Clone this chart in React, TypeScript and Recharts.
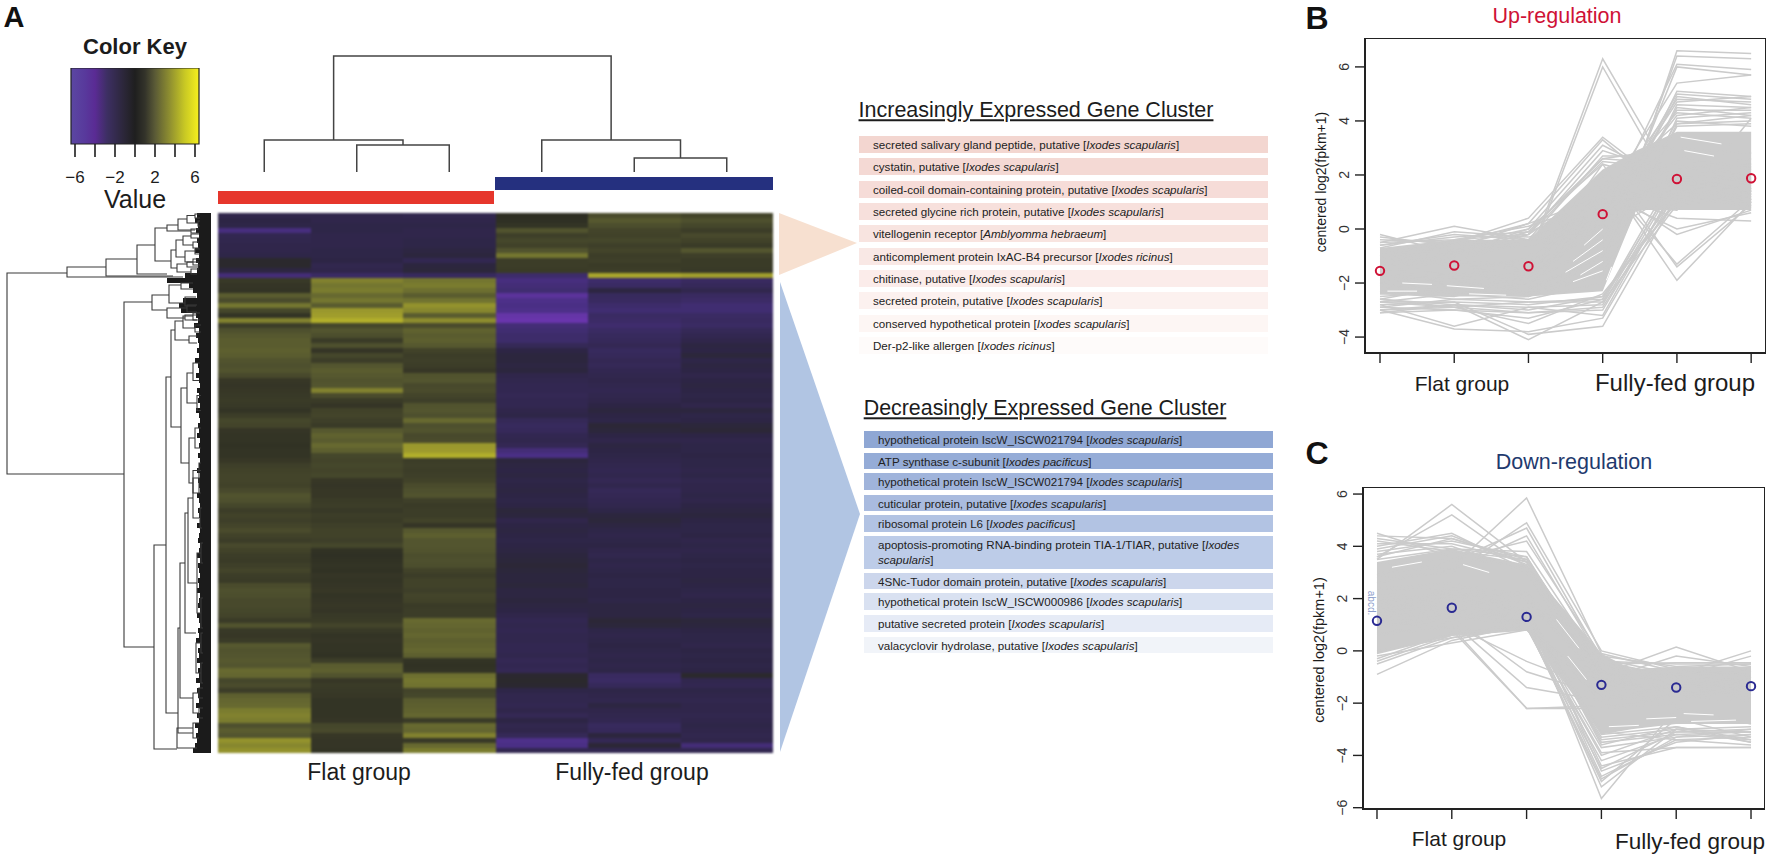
import React from 'react';
import {
  Area,
  Bar,
  BarChart,
  Cell,
  ComposedChart,
  Line,
  LineChart,
  ReferenceArea,
  XAxis,
  YAxis,
} from 'recharts';

const FONT = '"Liberation Sans", Arial, sans-serif';

// colour key
const keyTicks = [-6, -4, -2, 0, 2, 4, 6];
const keyLabels = [-6, -2, 2, 6];
const keyRange = [-6.4, 6.4];
const keyStops: [number, string][] = [
  [-6.4, '#5b47a2'], [-5, '#58399c'], [-4, '#5a2b94'], [-2.8, '#3d2f63'], [-1, '#2a2636'], [0, '#1f1f1f'],
  [1, '#33332a'], [2, '#5a5a36'], [3.5, '#909030'], [5, '#c9c924'], [6.4, '#f6f01e'],
];
const heatStops: [number, string][] = [
  [-5, '#6c36b0'], [-3, '#4a2f85'], [-2, '#3a2b63'], [-1, '#2d2545'], [0, '#2a2a22'], [1, '#3c3d28'],
  [2, '#53552f'], [3, '#747630'], [4.5, '#a3a02c'], [6, '#e8e825'],
];

// heatmap values, one list per sample, top row first
const flat1 = [
  -1.2, -1.0, -1.1, -2.8, -1.4, -1.3, -1.2, -1.2, -1.1, -0.3,
  -0.3, -0.9, -2.6, 0.8, 0.6, 0.5, 2.2, 1.6, 3.0, 1.4,
  0.5, 3.4, 1.0, 1.8, 2.1, 2.2, 2.2, 2.3, 2.2, 1.9,
  1.8, 1.9, 1.5, 0.7, 0.6, 0.7, 0.8, 0.9, 0.8, 0.5,
  1.0, 1.4, 1.3, 0.6, 0.5, 0.5, 0.4, 0.5, 0.5, 0.7,
  1.1, 1.2, 1.3, 1.3, 1.2, 1.5, 1.9, 1.8, 1.4, 1.0,
  1.2, 1.1, 1.3, 1.6, 1.2, 1.0, 1.5, 1.2, 1.0, 0.9,
  1.1, 1.3, 1.0, 0.9, 1.6, 1.8, 1.7, 1.5, 1.5, 1.4,
  1.3, 0.9, 1.9, 0.8, 0.7, 0.9, 2.1, 1.9, 2.0, 2.1,
  2.0, 2.6, 2.5, 1.4, 1.6, 1.0, 2.3, 2.5, 2.6, 3.2,
  3.4, 3.2, 1.8, 2.2, 2.0, 4.0, 3.6, 4.0,
];
const flat2 = [
  -1.2, -1.2, -1.1, -1.1, -1.2, -1.2, -1.2, -1.1, -1.1, -1.0,
  -1.3, -1.2, -2.0, 3.4, 3.0, 3.2, 2.6, 3.0, 2.2, 4.2,
  4.4, 4.8, 1.4, 2.0, 1.7, 0.9, 1.8, 0.6, 1.4, 1.0,
  2.0, 2.2, 2.1, 1.9, 2.0, 3.4, 1.6, 0.9, 0.6, 1.2,
  1.3, 1.1, 0.9, 2.1, 2.4, 2.2, 2.6, 2.3, 1.4, 1.3,
  1.4, 1.3, 1.4, 0.7, 0.6, 0.7, 0.7, 0.9, 1.0, 0.8,
  1.0, 0.9, 1.1, 1.2, 1.2, 1.1, 1.4, 0.4, 0.3, 0.4,
  0.5, 0.4, 0.6, 0.5, 0.6, 0.7, 0.5, 0.6, 0.7, 0.6,
  0.8, 0.9, 1.3, 0.8, 0.5, 0.6, 0.5, 0.5, 0.4, 1.0,
  2.2, 2.3, 1.9, 0.7, 0.9, 0.8, 0.7, 0.5, 0.5, 0.5,
  0.5, 0.6, 1.4, 1.5, 0.7, 0.6, 0.6, 0.5,
];
const flat3 = [
  -1.3, -1.2, -1.1, -1.2, -1.2, -1.1, -1.1, -0.9, -0.8, -1.4,
  -0.8, -0.7, -1.8, 3.0, 3.2, 2.8, 2.2, 2.9, 4.0, 3.6,
  2.2, 3.8, 1.6, 2.4, 2.2, 2.3, 2.1, 1.2, 1.0, 1.1,
  1.0, 0.7, 1.9, 2.0, 1.5, 1.6, 1.3, 1.1, 1.9, 2.0,
  1.8, 2.6, 1.8, 1.9, 1.5, 1.6, 4.2, 4.3, 4.8, 1.0,
  1.1, 1.0, 1.1, 1.2, 1.6, 1.8, 1.9, 1.1, 0.9, 1.0,
  1.0, 1.2, 0.6, 2.1, 2.3, 2.0, 2.0, 1.9, 1.7, 1.8,
  1.7, 1.2, 1.0, 1.2, 1.2, 1.1, 1.3, 1.2, 0.9, 1.0,
  1.0, 2.6, 2.5, 2.4, 2.5, 2.3, 2.4, 2.5, 2.3, 0.5,
  0.4, 0.5, 2.8, 3.0, 2.9, 1.3, 1.4, 2.2, 2.3, 2.4,
  2.5, 0.9, 2.6, 2.5, 3.4, 0.8, 2.6, 3.2,
];
const fed1 = [
  0.2, 0.3, 0.5, 1.9, 1.1, 1.4, 1.2, 1.9, 3.0, 1.0,
  1.0, 0.9, -2.2, -2.8, -2.6, -2.4, -4.0, -3.2, -3.0, -3.2,
  -4.6, -4.8, -2.6, -2.4, -2.2, -2.2, -1.6, -1.0, -0.8, -0.8,
  -0.9, -0.8, -1.2, -1.3, -1.4, -1.4, -1.5, -1.4, -1.4, -1.2,
  -1.1, -1.6, -1.8, -1.7, -1.4, -1.3, -1.5, -2.6, -3.0, -0.8,
  -0.9, -1.0, -0.9, -1.1, -1.0, -0.9, -1.0, -1.1, -1.0, -0.7,
  -0.8, -1.2, -1.0, -0.9, -1.0, -1.1, -1.0, -0.9, -0.8, -0.7,
  -0.6, -0.7, -0.8, -0.8, -0.7, -0.9, -0.9, -0.8, -0.9, -1.0,
  -1.2, -1.4, -1.3, -1.4, -1.3, -1.3, -1.4, -1.4, -1.3, -1.5,
  -1.4, -1.5, -0.4, -0.3, -0.4, -1.1, -1.3, -1.3, -1.4, -1.2,
  -1.5, -1.0, -1.3, -1.2, -1.6, -3.2, -3.0, -1.4,
];
const fed2 = [
  1.6, 2.1, 1.7, 1.3, 1.2, 1.4, 1.1, 1.3, 1.0, 1.1,
  0.9, 1.0, 4.6, -2.2, -2.0, -0.9, -1.8, -1.9, -2.2, -2.4,
  -2.0, -2.1, -2.3, -2.0, -1.8, -1.7, -1.5, -1.8, -1.7, -1.5,
  -1.6, -1.4, -1.3, -1.2, -1.3, -1.4, -1.3, -1.2, -1.0, -0.8,
  -1.0, -1.1, -0.6, -0.7, -1.0, -1.2, -0.9, -1.0, -1.1, -1.2,
  -1.3, -1.4, -1.3, -1.5, -1.3, -1.6, -1.5, -1.4, -1.3, -1.1,
  -0.8, -0.7, -0.9, -1.1, -1.2, -1.1, -1.0, -1.2, -1.3, -1.1,
  -1.2, -1.1, -1.0, -1.1, -1.1, -1.0, -1.0, -1.1, -0.9, -0.9,
  -0.9, -0.6, -0.7, -1.1, -1.2, -1.1, -1.0, -1.1, -1.2, -1.1,
  -1.2, -1.1, -1.9, -2.0, -1.7, -1.1, -1.2, -1.3, -0.9, -1.2,
  -1.3, -1.4, -1.8, -1.7, -0.8, -1.5, -0.6, -1.4,
];
const fed3 = [
  1.3, 1.8, 1.4, 1.0, 1.5, 1.2, 0.9, 2.0, 1.1, 0.9,
  0.9, 0.8, 4.4, -1.9, -1.7, -1.3, -1.9, -2.1, -2.4, -2.4,
  -2.0, -1.9, -2.0, -1.6, -1.4, -1.2, -0.9, -1.0, -0.7, -1.1,
  -0.9, -1.0, -1.2, -1.0, -0.9, -1.0, -1.1, -1.0, -1.2, -0.8,
  -1.1, -1.0, -0.7, -0.6, -1.0, -1.2, -1.1, -1.1, -1.0, -1.1,
  -1.1, -1.2, -1.1, -1.3, -1.2, -1.2, -1.1, -1.2, -1.0, -0.9,
  -0.8, -1.0, -1.1, -1.1, -1.0, -1.2, -1.1, -1.2, -1.1, -1.0,
  -1.1, -1.0, -1.0, -0.9, -1.0, -1.1, -1.2, -1.0, -0.9, -1.0,
  -1.1, -0.7, -0.8, -1.0, -1.1, -1.1, -1.2, -1.0, -1.1, -1.0,
  -1.1, -1.0, -0.3, -1.3, -1.4, -1.1, -1.2, -1.3, -1.2, -1.2,
  -1.3, -1.2, -1.1, -1.2, -1.3, -1.2, -2.6, -1.4,
];
const heatColumns = [flat1, flat2, flat3, fed1, fed2, fed3];

// row dendrogram: [merge height, upper row, upper child height, lower row, lower child height]
const rowLinks = [
  [204, 12, 144, 52.2, 87], [144, 10.8, 105, 12.8, 28], [105, 9.2, 74, 12.6, 38], [74, 6.4, 56, 12.2, 44],
  [56, 3, 44, 9.6, 40], [44, 2.4, 33, 3.6, 20], [33, 1.2, 24, 3.4, 16], [24, 0.5, 16, 2, 13],
  [16, 0.2, 11, 1, 11], [13, 1.6, 11, 2.6, 11], [20, 3.2, 12, 4, 12], [40, 7.4, 35, 11, 34],
  [35, 5.4, 28, 8.8, 26], [28, 4.6, 20, 6.4, 18], [20, 4.2, 12, 5, 12], [18, 5.8, 12, 7, 12],
  [26, 7.6, 16, 9.8, 18], [16, 7.2, 11, 8.2, 11], [18, 9.2, 11, 10.4, 11], [34, 10.2, 24, 11.8, 20],
  [24, 9.8, 12, 10.8, 12], [20, 11.2, 12, 12.2, 14], [87, 17.8, 59, 86.8, 57], [59, 16.4, 42, 19.4, 44],
  [42, 14.4, 30, 18, 26], [30, 14, 18, 15.2, 18], [26, 16.8, 15, 18.6, 15], [44, 19, 24, 21, 26],
  [24, 18.4, 14, 19.8, 14], [26, 20.4, 14, 21.4, 14], [57, 66.4, 45, 107.2, 34], [45, 32.8, 40, 100, 33],
  [40, 23.4, 36, 42.8, 30], [36, 21.6, 28, 25.4, 22], [28, 20.6, 18, 23, 16], [22, 24.6, 14, 26, 14],
  [18, 20, 11, 21.4, 11], [16, 22.4, 10, 23.8, 10], [30, 35, 24, 50, 22], [24, 32, 18, 38, 14],
  [18, 30, 11, 33.5, 12], [14, 36.5, 10, 39.5, 10], [22, 45, 16, 54, 18], [16, 43, 10, 47, 10],
  [18, 51.5, 10, 56, 12], [33, 83, 31, 104, 18], [31, 70, 26, 97, 18], [26, 60, 23, 84, 15],
  [23, 57, 18, 74, 14], [18, 53, 11, 61, 12], [12, 50, 10, 56, 10], [11, 59, 9, 63, 9],
  [14, 68, 10, 80, 10], [10, 66, 8, 70, 8], [10, 77, 8, 83, 8], [15, 86, 10, 92, 10],
  [10, 84, 8, 88, 8], [10, 90, 8, 94, 8], [18, 96, 12, 100, 12], [12, 95, 8, 97, 8],
  [12, 99, 8, 101, 8], [34, 103, 18, 107, 14], [18, 102, 12, 105, 12],
];
const leafDepth = [
  14, 16, 13, 15, 12, 14, 13, 16, 12, 15,
  13, 14, 26, 44, 22, 18, 14, 28, 32, 30,
  15, 13, 17, 12, 15, 13, 12, 14, 12, 16,
  13, 12, 15, 12, 11, 14, 12, 13, 11, 15,
  12, 11, 13, 12, 14, 11, 12, 11, 13, 11,
  12, 14, 11, 13, 12, 11, 14, 12, 11, 13,
  12, 11, 14, 11, 12, 13, 11, 12, 14, 11,
  13, 12, 11, 13, 12, 14, 11, 12, 13, 11,
  14, 12, 11, 13, 12, 15, 11, 13, 12, 14,
  11, 13, 12, 15, 11, 14, 13, 12, 15, 11,
  14, 12, 16, 13, 15, 14, 16, 18,
];

// column dendrogram: [left leaf, right leaf, merge height, left child height, right child height]
const columnLinks = [
  [1.5, 2.5, 27, 0, 0],
  [0.5, 2.0, 32, 0, 27],
  [4.5, 5.5, 14, 0, 0],
  [3.5, 5.0, 32, 0, 14],
  [1.25, 4.25, 116, 32, 32],
];

// gene lists: name, species (a line break where the row wraps)
const increasingGenes = [
  ['secreted salivary gland peptide, putative', 'Ixodes scapularis'],
  ['cystatin, putative', 'Ixodes scapularis'],
  ['coiled-coil domain-containing protein, putative', 'Ixodes scapularis'],
  ['secreted glycine rich protein, putative', 'Ixodes scapularis'],
  ['vitellogenin receptor', 'Amblyomma hebraeum'],
  ['anticomplement protein IxAC-B4 precursor', 'Ixodes ricinus'],
  ['chitinase, putative', 'Ixodes scapularis'],
  ['secreted protein, putative', 'Ixodes scapularis'],
  ['conserved hypothetical protein', 'Ixodes scapularis'],
  ['Der-p2-like allergen', 'Ixodes ricinus'],
];
const decreasingGenes = [
  ['hypothetical protein IscW_ISCW021794', 'Ixodes scapularis'],
  ['ATP synthase c-subunit', 'Ixodes pacificus'],
  ['hypothetical protein IscW_ISCW021794', 'Ixodes scapularis'],
  ['cuticular protein, putative', 'Ixodes scapularis'],
  ['ribosomal protein L6', 'Ixodes pacificus'],
  ['apoptosis-promoting RNA-binding protein TIA-1/TIAR, putative', 'Ixodes\nscapularis'],
  ['4SNc-Tudor domain protein, putative', 'Ixodes scapularis'],
  ['hypothetical protein IscW_ISCW000986', 'Ixodes scapularis'],
  ['putative secreted protein', 'Ixodes scapularis'],
  ['valacyclovir hydrolase, putative', 'Ixodes scapularis'],
];
const increasingFills = ['#f3d6d0', '#f4d9d4', '#f6dcd8', '#f7e0dc', '#f8e4e0', '#f9e8e5', '#fbecea', '#fcf1ef', '#fdf6f4', '#fefbfa'];
const decreasingFills = ['#8fa7d4', '#95acd7', '#a0b4db', '#a9bbdf', '#b2c3e3', '#bdcce8', '#ccd6ec', '#d9e1f1', '#e6ebf6', '#f1f4f9'];
const increasingTops = [136, 158, 181, 203, 225, 248, 270, 292, 315, 337];
const decreasingTops = [431, 453, 473, 495, 515, 536, 573, 593, 615, 637];
const decreasingHeights = [17, 16, 17, 16, 17, 33, 16, 17, 17, 16];

// panels B and C
const timePoints = [1, 2, 3, 4, 5, 6];
const upMeans = [-1.55, -1.35, -1.38, 0.55, 1.85, 1.88];
const downMeans = [1.15, 1.65, 1.3, -1.3, -1.4, -1.35];
const upBandX = [1, 2, 3, 4, 4.45, 5, 6];
const upBandLow = [-2.4, -2.5, -2.5, -2.3, 0.7, 0.7, 0.7];
const upBandHigh = [-0.7, -0.4, -0.4, 2.2, 2.9, 3.6, 3.6];
const downBandX = [1, 2, 3, 4, 4.4, 5, 6];
const downBandLow = [-0.1, 0.6, 0.8, -3.2, -3.0, -2.8, -2.8];
const downBandHigh = [3.4, 3.9, 3.3, -0.1, -0.7, -0.6, -0.6];
const upLines = [
  [-1.2, -1.5, -1.1, 6.3, 1.6, 1.9], [-1.5, -1.4, -1.2, 6.0, 1.2, 1.7], [-0.8, -0.5, 0.4, 3.4, 1.3, 1.5],
  [-1.0, -0.7, 0.2, 3.3, 1.0, 1.2], [-1.2, -0.9, 0.0, 3.1, 1.7, 1.4], [-1.4, -1.1, -0.2, 2.9, 2.0, 1.8],
  [-1.6, -1.2, -0.4, 2.7, 2.7, 2.2], [-0.9, -0.8, -0.1, 2.6, 3.0, 2.8], [-2.5, -2.3, -2.4, -1.6, 6.6, 6.5],
  [-2.2, -2.0, -2.5, -1.2, 6.4, 6.3], [-2.0, -2.4, -2.1, 0.4, 6.1, 5.9], [-2.6, -2.1, -2.3, -0.8, 6.0, 5.7],
  [-1.9, -1.8, -1.7, 1.0, 5.4, 5.7], [-2.3, -2.2, -2.0, -0.5, 5.1, 4.9], [-1.7, -1.9, -1.6, 0.2, 5.0, 4.8],
  [-2.1, -1.6, -1.9, 0.8, 4.8, 4.7], [-1.8, -2.0, -2.2, -1.0, 4.6, 4.5], [-2.4, -2.5, -1.8, 0.1, 4.4, 4.4],
  [-1.3, -1.5, -1.5, 1.2, 4.3, 4.1], [-2.7, -2.4, -2.6, -2.0, 4.1, 4.3], [-1.6, -1.4, -1.3, 1.5, 3.9, 4.0],
  [-2.0, -1.7, -2.4, -1.4, 3.8, 3.9], [-1.3, -1.2, -1.3, 2.1, -1.9, 1.0], [-1.5, -1.3, -1.4, 2.4, -1.4, 0.9],
  [-1.6, -1.5, -1.2, 1.9, -1.3, 1.1], [-1.4, -1.4, -1.5, 1.6, -0.2, 0.7], [-1.7, -1.6, -1.6, 1.3, 0.0, 0.6],
  [-1.8, -1.7, -1.4, 1.4, 0.4, 0.3], [-3.1, -3.0, -3.1, -3.0, 1.6, 1.5], [-3.0, -3.7, -3.8, -3.3, 1.4, 1.3],
  [-2.8, -3.6, -2.9, -2.8, 1.8, 1.7], [-3.1, -2.8, -4.1, -2.7, 2.0, 1.9], [-2.7, -2.7, -3.9, -3.6, 1.2, 1.4],
  [-2.9, -3.0, -3.3, -2.6, 2.2, 2.0], [-2.6, -2.9, -3.5, -2.4, 1.0, 1.2], [-3.0, -2.8, -2.9, -3.2, 1.7, 1.6],
  [-0.2, -0.9, -0.6, -0.2, 1.4, 1.5], [-0.3, -0.6, -0.5, 0.3, 1.7, 1.8], [-0.5, 0.1, -0.4, 0.7, 1.9, 2.0],
  [-0.7, -0.1, -0.3, 0.5, 1.5, 1.4], [-0.6, -0.2, -0.4, 0.0, 2.2, 2.3], [-1.0, -0.4, 0.1, 1.0, 2.5, 2.4],
  [-1.5, -1.5, -1.6, 1.0, 0.7, 4.1], [-2.2, -2.0, -2.1, -0.3, 4.9, 4.6], [-1.9, -2.2, -1.8, 0.5, 4.7, 4.9],
  [-2.4, -2.3, -2.2, -0.9, 4.5, 4.2], [-1.6, -1.8, -1.9, 0.7, 4.2, 4.5], [-2.0, -1.9, -2.3, -1.1, 4.0, 3.8],
  [-2.3, -2.6, -2.5, -1.7, 3.9, 4.2], [-1.1, -0.8, -0.2, 2.5, 2.2, 2.6], [-0.9, -0.6, 0.0, 2.4, 1.6, 2.0],
  [-1.3, -1.0, -0.1, 2.6, 2.4, 2.0], [-2.8, -2.7, -2.8, -2.5, 1.1, 1.0], [-2.9, -2.6, -2.7, -2.7, 0.9, 1.3],
  [-2.7, -2.9, -3.1, -2.9, 1.5, 1.1], [-2.6, -2.8, -3.0, -2.5, 1.3, 0.8], [-3.0, -2.9, -2.7, -2.6, 1.9, 1.4],
  [-0.6, -0.3, -0.1, 0.9, 1.2, 1.0], [-0.4, -0.5, 0.2, 1.2, 1.1, 1.3], [-0.5, -0.4, -0.2, 1.6, 0.9, 1.1],
];
const downLines = [
  [4.5, 3.6, 3.2, -1.0, -1.4, -1.5], [4.4, 4.3, 3.4, -0.8, -1.2, -1.3], [4.2, 3.8, 3.5, -0.6, -1.0, -1.1],
  [4.0, 4.5, 3.1, -1.2, -1.5, -1.6], [3.9, 4.4, 3.3, -1.0, -1.8, -1.2], [3.7, 4.0, 3.0, -1.4, -1.1, -1.4],
  [3.6, 5.2, 3.2, -0.9, -1.3, -1.0], [3.5, 5.6, 3.4, -1.3, -1.2, -1.1], [3.0, 3.2, 5.85, -0.1, -0.8, -1.0],
  [2.8, 3.0, 4.9, 0.0, -0.7, -0.9], [2.9, 3.4, 4.7, -0.3, -0.9, -0.8], [2.6, 3.1, 4.4, -0.4, -1.0, -0.7],
  [3.3, 3.5, 4.2, -0.2, -0.6, -0.5], [1.2, 0.8, -2.2, -2.2, -2.0, -2.0], [0.6, 0.9, -2.2, -2.1, -1.8, -1.9],
  [1.0, 1.1, -1.4, -1.9, -1.6, -1.7], [0.9, 1.3, -0.8, -1.7, -1.5, -1.8], [0.7, 1.0, -0.4, -1.5, -1.9, -1.4],
  [-0.9, 0.4, 1.0, -1.4, -1.3, -1.2], [-0.5, 0.5, 0.9, -1.6, -1.6, -1.5], [-0.4, 0.6, 1.1, -1.8, -1.4, -1.3],
  [-0.2, 0.3, 0.8, -1.2, -1.2, -1.4], [1.5, 2.0, 1.5, -5.65, -2.2, -2.8], [1.4, 1.9, 1.6, -4.6, -3.5, -3.2],
  [1.3, 1.6, 1.2, -5.2, -3.0, -3.1], [1.6, 2.1, 1.0, -5.0, -2.6, -3.3], [1.8, 2.3, 1.3, -4.8, -3.4, -3.6],
  [1.1, 1.5, 1.5, -4.4, -3.7, -3.7], [2.0, 1.4, 0.9, -4.2, -3.2, -3.4], [1.9, 2.2, 1.1, -3.9, -3.7, -3.7],
  [1.2, 1.7, 1.7, -3.6, -2.9, -3.5], [1.5, 2.4, 1.4, -3.4, -3.1, -3.0], [2.2, 2.0, 1.8, -0.9, 0.15, -0.8],
  [1.8, 2.3, 2.0, -1.1, -0.2, -0.6], [2.4, 2.6, 2.1, -1.3, -0.9, 0.0], [2.1, 1.9, 2.3, -1.0, -1.0, -0.2],
  [4.3, 3.9, 3.6, -0.9, -1.1, -1.2], [4.1, 4.1, 3.4, -0.7, -1.3, -1.0], [3.8, 4.2, 3.6, -1.1, -1.4, -1.3],
  [3.6, 4.3, 3.5, -0.8, -1.0, -1.5], [3.5, 3.9, 3.8, -0.5, -0.9, -0.8], [1.4, 1.8, 1.3, -3.3, -3.0, -2.9],
  [1.7, 2.0, 1.6, -3.5, -3.2, -3.1], [1.3, 1.5, 1.2, -3.7, -3.3, -3.2], [1.6, 2.2, 1.5, -3.1, -3.4, -3.3],
  [1.0, 1.4, 1.1, -4.0, -3.0, -3.5], [1.9, 1.6, 1.4, -3.2, -2.9, -3.4], [1.5, 1.7, 0.9, -4.5, -3.1, -3.1],
  [1.2, 1.3, 1.0, -4.9, -3.3, -3.0], [0.0, 0.5, 1.0, -1.7, -1.5, -1.6], [-0.3, 0.7, 0.9, -1.9, -1.7, -1.5],
  [-0.1, 0.6, 0.8, -1.5, -1.4, -1.7], [2.0, 2.1, 1.9, -0.4, -0.5, -0.5], [2.3, 2.4, 2.2, -0.5, -0.45, -0.45],
];
// thin unfilled streaks inside the grey mass: [x1, y1, x2, y2]
const upGaps = [
  [1.1, -2.3, 1.5, -2.3], [1.9, -2.1, 2.4, -2.2], [2.2, -2.4, 2.7, -2.45], [3.6, -1.2, 4, -0.4], [3.5, -1.6, 4, -0.8],
  [3.7, -1.7, 4, -1.2], [3.6, -1.95, 4, -1.55], [3.75, -0.6, 4, 0.0], [5.05, 3.4, 5.6, 3.15], [5.1, 2.9, 5.5, 2.7],
  [4.05, -1.9, 4.12, -1.4], [1.3, -2.0, 1.7, -2.05],
];
const downGaps = [
  [4.1, -2.9, 4.5, -2.85], [5.2, -2.7, 5.8, -2.65], [4.6, -2.6, 5, -2.55], [5.1, -2.4, 5.5, -2.45],
  [1.2, 3.2, 1.6, 3.4], [2.15, 3.3, 2.5, 3.0], [3.4, 1.2, 3.7, 0.1], [3.55, -0.2, 3.8, -1.1],
];

const hexToRgb = (hex: string) => [1, 3, 5].map(i => parseInt(hex.slice(i, i + 2), 16));

function heatColor(value: number) {
  for (let i = 1; i < heatStops.length; i++) {
    const [v0, c0] = heatStops[i - 1];
    const [v1, c1] = heatStops[i];
    if (value <= v1) {
      const t = Math.max(0, (value - v0) / (v1 - v0));
      const a = hexToRgb(c0);
      const b = hexToRgb(c1);
      return `rgb(${a.map((n, k) => Math.round(n + (b[k] - n) * t)).join(',')})`;
    }
  }
  return heatStops[heatStops.length - 1][1];
}

// centred text at a page position
function T(props: { x: number; y: number; size: number; color?: string; bold?: boolean; rotate?: number; children: React.ReactNode }) {
  return (
    <div
      style={{
        position: 'absolute',
        left: props.x,
        top: props.y,
        transform: `translate(-50%,-50%) rotate(${props.rotate ?? 0}deg)`,
        fontSize: props.size,
        fontWeight: props.bold ? 700 : 400,
        color: props.color ?? '#1c1c1c',
        lineHeight: 1,
        whiteSpace: 'nowrap',
      }}
    >
      {props.children}
    </div>
  );
}

function ColorKey() {
  return (
    <div style={{ position: 'absolute', left: 50, top: 68 }}>
      <ComposedChart
        width={170}
        height={125}
        data={[{ x: keyRange[0], y: 1 }, { x: keyRange[1], y: 1 }]}
        margin={{ top: 0, right: 21, bottom: 0, left: 21 }}
      >
        <defs>
          <linearGradient id="keyFill" x1="0" y1="0" x2="1" y2="0">
            {keyStops.map(([v, c]) => (
              <stop key={v} offset={`${((v - keyRange[0]) / (keyRange[1] - keyRange[0])) * 100}%`} stopColor={c} />
            ))}
          </linearGradient>
        </defs>
        <XAxis
          dataKey="x"
          type="number"
          domain={keyRange}
          ticks={keyTicks}
          interval={0}
          height={49}
          tickSize={13}
          tickMargin={14}
          axisLine={false}
          tickLine={{ stroke: '#1c1c1c', strokeWidth: 1.6 }}
          tick={{ fontSize: 17, fill: '#1c1c1c' }}
          tickFormatter={(v: number) => (keyLabels.includes(v) ? String(v).replace('-', '\u2212') : '')}
        />
        <YAxis hide domain={[0, 1]} />
        <Area dataKey="y" fill="url(#keyFill)" fillOpacity={1} stroke="none" isAnimationActive={false} />
        <ReferenceArea x1={keyRange[0]} x2={keyRange[1]} y1={0} y2={1} fill="none" stroke="#222" strokeWidth={1.2} />
      </ComposedChart>
    </div>
  );
}

function Heatmap() {
  const rows = flat1.map((_, r) => ({ row: r, c0: 1, c1: 1, c2: 1, c3: 1, c4: 1, c5: 1 }));
  return (
    <div style={{ position: 'absolute', left: 218, top: 213, filter: 'blur(0.8px)', background: '#2a2a2a', width: 555, height: 540 }}>
      <BarChart width={555} height={540} data={rows} layout="vertical" barCategoryGap={0} barGap={0} margin={{ top: 0, right: 0, bottom: 0, left: 0 }}>
        <XAxis hide type="number" domain={[0, 6]} />
        <YAxis hide type="category" dataKey="row" />
        {heatColumns.map((col, c) => (
          <Bar key={c} dataKey={`c${c}`} stackId="heat" isAnimationActive={false} shapeRendering="crispEdges">
            {col.map((v, r) => (
              <Cell key={r} fill={heatColor(v)} />
            ))}
          </Bar>
        ))}
      </BarChart>
    </div>
  );
}

function RowDendrogram() {
  const depthRows = leafDepth.map((d, r) => ({ row: r, d }));
  return (
    <div style={{ position: 'absolute', left: 0, top: 213, width: 211, height: 540 }}>
      <div style={{ position: 'absolute', left: 0, top: 0 }}>
        <BarChart width={211} height={540} data={depthRows} layout="vertical" barCategoryGap={0} margin={{ top: 0, right: 0, bottom: 0, left: 0 }}>
          <XAxis hide type="number" domain={[0, 211]} reversed />
          <YAxis hide type="category" dataKey="row" />
          <Bar dataKey="d" fill="#1b1b1b" isAnimationActive={false} />
        </BarChart>
      </div>
      <div style={{ position: 'absolute', left: 0, top: 0 }}>
        <LineChart width={211} height={540} margin={{ top: 0, right: 0, bottom: 0, left: 0 }}>
          <XAxis hide type="number" dataKey="h" domain={[0, 211]} reversed />
          <YAxis hide type="number" domain={[0, 108]} reversed />
          {rowLinks.map(([hm, r1, h1, r2, h2], i) => (
            <Line
              key={i}
              data={[{ h: h1, r: r1 }, { h: hm, r: r1 }, { h: hm, r: r2 }, { h: h2, r: r2 }]}
              dataKey="r"
              type="linear"
              stroke="#3a3a3a"
              strokeWidth={1.1}
              dot={false}
              isAnimationActive={false}
            />
          ))}
        </LineChart>
      </div>
    </div>
  );
}

function ColumnDendrogram() {
  return (
    <div style={{ position: 'absolute', left: 218, top: 52 }}>
      <LineChart width={555} height={120} margin={{ top: 0, right: 0, bottom: 0, left: 0 }}>
        <XAxis hide type="number" dataKey="p" domain={[0, 6]} />
        <YAxis hide type="number" domain={[0, 120]} />
        {columnLinks.map(([p1, p2, h, h1, h2], i) => (
          <Line
            key={i}
            data={[{ p: p1, h: h1 }, { p: p1, h }, { p: p2, h }, { p: p2, h: h2 }]}
            dataKey="h"
            type="linear"
            stroke="#444"
            strokeWidth={1.5}
            dot={false}
            isAnimationActive={false}
          />
        ))}
      </LineChart>
    </div>
  );
}

function GeneList(props: { genes: string[][]; fills: string[]; tops: number[]; heights?: number[]; left: number }) {
  return (
    <>
      {props.genes.map(([name, species], i) => (
        <div
          key={i}
          style={{
            position: 'absolute',
            left: props.left,
            top: props.tops[i],
            width: 409,
            height: props.heights ? props.heights[i] : 17,
            boxSizing: 'border-box',
            padding: '1px 0 0 14px',
            background: props.fills[i],
            fontSize: 11.6,
            lineHeight: '15px',
            color: '#222',
            whiteSpace: 'nowrap',
          }}
        >
          {name} [
          {species.split('\n').map((part, k) => (
            <React.Fragment key={k}>
              {k > 0 && <br />}
              <i>{part}</i>
            </React.Fragment>
          ))}
          ]
        </div>
      ))}
    </>
  );
}

function ProfilePanel(props: {
  left: number;
  top: number;
  width: number;
  height: number;
  axisWidth: number;
  xDomain: number[];
  yDomain: number[];
  yTicks: number[];
  lines: number[][];
  gaps: number[][];
  bandX: number[];
  bandLow: number[];
  bandHigh: number[];
  means: number[];
  meanColor: string;
}) {
  const band = props.bandX.map((x, i) => ({ x, range: [props.bandLow[i], props.bandHigh[i]] }));
  return (
    <div style={{ position: 'absolute', left: props.left, top: props.top }}>
      <ComposedChart width={props.width} height={props.height + 12} margin={{ top: 0, right: 0, bottom: 0, left: 0 }}>
        <XAxis
          dataKey="x"
          type="number"
          domain={props.xDomain}
          ticks={timePoints}
          interval={0}
          height={12}
          tickSize={10}
          axisLine={false}
          tickLine={{ stroke: '#222', strokeWidth: 1.4 }}
          tickFormatter={() => ''}
          allowDataOverflow
        />
        <YAxis
          type="number"
          width={props.axisWidth}
          domain={props.yDomain}
          ticks={props.yTicks}
          interval={0}
          tickSize={10}
          tickMargin={0}
          axisLine={false}
          tickLine={{ stroke: '#222', strokeWidth: 1.4 }}
          allowDataOverflow
          tick={(p: any) => (
            <text
              x={p.x - 6}
              y={p.y}
              transform={`rotate(-90,${p.x - 6},${p.y})`}
              textAnchor="middle"
              fontSize={14}
              fill="#333"
              fontFamily={FONT}
            >
              {String(p.payload.value).replace('-', '\u2212')}
            </text>
          )}
        />
        <Area data={band} dataKey="range" fill="#cbcbcb" fillOpacity={1} stroke="none" isAnimationActive={false} />
        {props.lines.map((line, i) => (
          <Line
            key={i}
            data={timePoints.map((x, k) => ({ x, y: line[k] }))}
            dataKey="y"
            type="linear"
            stroke="#cbcbcb"
            strokeWidth={1.5}
            dot={false}
            isAnimationActive={false}
          />
        ))}
        {props.gaps.map(([x1, y1, x2, y2], i) => (
          <Line
            key={`gap${i}`}
            data={[{ x: x1, y: y1 }, { x: x2, y: y2 }]}
            dataKey="y"
            type="linear"
            stroke="#fff"
            strokeWidth={1}
            dot={false}
            isAnimationActive={false}
          />
        ))}
        <Line
          data={timePoints.map((x, k) => ({ x, y: props.means[k] }))}
          dataKey="y"
          stroke="none"
          dot={{ r: 4.2, fill: 'none', stroke: props.meanColor, strokeWidth: 2 }}
          isAnimationActive={false}
        />
        <ReferenceArea
          x1={props.xDomain[0]}
          x2={props.xDomain[1]}
          y1={props.yDomain[0]}
          y2={props.yDomain[1]}
          fill="none"
          stroke="#222"
          strokeWidth={2}
        />
      </ComposedChart>
    </div>
  );
}

export default function App() {
  return (
    <div style={{ position: 'absolute', left: 0, top: 0, width: 1772, height: 856, background: '#fff', overflow: 'hidden', fontFamily: FONT }}>
      <T x={14} y={17} size={29} bold color="#111">A</T>
      <T x={1317} y={18} size={32} bold color="#111">B</T>
      <T x={1317} y={453} size={32} bold color="#111">C</T>

      <T x={135} y={47} size={22} bold>Color Key</T>
      <ColorKey />
      <T x={135} y={199} size={25}>Value</T>

      <ColumnDendrogram />
      <div style={{ position: 'absolute', left: 218, top: 191, width: 276, height: 13, background: '#e6362c' }} />
      <div style={{ position: 'absolute', left: 495, top: 177, width: 278, height: 13, background: '#25307f' }} />
      <RowDendrogram />
      <Heatmap />
      <T x={359} y={772} size={23}>Flat group</T>
      <T x={632} y={772} size={23}>Fully-fed group</T>

      <svg width={1772} height={856} style={{ position: 'absolute', left: 0, top: 0, pointerEvents: 'none' }}>
        <polygon points="779,213 857,243 779,275" fill="#f7e0d0" />
        <polygon points="780,282 860,514 780,752" fill="#b1c5e3" />
      </svg>

      <T x={1036} y={111} size={21.5}><span style={{ textDecoration: 'underline' }}>Increasingly Expressed Gene Cluster</span></T>
      <GeneList genes={increasingGenes} fills={increasingFills} tops={increasingTops} left={859} />
      <T x={1045} y={409} size={21.4}><span style={{ textDecoration: 'underline' }}>Decreasingly Expressed Gene Cluster</span></T>
      <GeneList genes={decreasingGenes} fills={decreasingFills} tops={decreasingTops} heights={decreasingHeights} left={864} />

      <T x={1557} y={17} size={21.5} color="#cf1236">Up-regulation</T>
      <T x={1321} y={182} size={14} rotate={-90}>centered log2(fpkm+1)</T>
      <ProfilePanel
        left={1290}
        top={38}
        width={476}
        height={315}
        axisWidth={75}
        xDomain={[0.798, 6.2]}
        yDomain={[-4.59, 7.07]}
        yTicks={[-4, -2, 0, 2, 4, 6]}
        lines={upLines}
        gaps={upGaps}
        bandX={upBandX}
        bandLow={upBandLow}
        bandHigh={upBandHigh}
        means={upMeans}
        meanColor="#cf1236"
      />
      <T x={1462} y={383} size={21}>Flat group</T>
      <T x={1675} y={383} size={24}>Fully-fed group</T>

      <T x={1574} y={463} size={21.5} color="#1f3a6e">Down-regulation</T>
      <T x={1319} y={650} size={14.5} rotate={-90}>centered log2(fpkm+1)</T>
      <ProfilePanel
        left={1288}
        top={487}
        width={477}
        height={322}
        axisWidth={75}
        xDomain={[0.813, 6.187]}
        yDomain={[-6.05, 6.27]}
        yTicks={[-6, -4, -2, 0, 2, 4, 6]}
        lines={downLines}
        gaps={downGaps}
        bandX={downBandX}
        bandLow={downBandLow}
        bandHigh={downBandHigh}
        means={downMeans}
        meanColor="#2a2a92"
      />
      <T x={1371} y={603} size={10} rotate={90} color="#8ea0cc">abcd.</T>
      <T x={1459} y={838} size={21}>Flat group</T>
      <T x={1690} y={842} size={22.5}>Fully-fed group</T>
    </div>
  );
}
